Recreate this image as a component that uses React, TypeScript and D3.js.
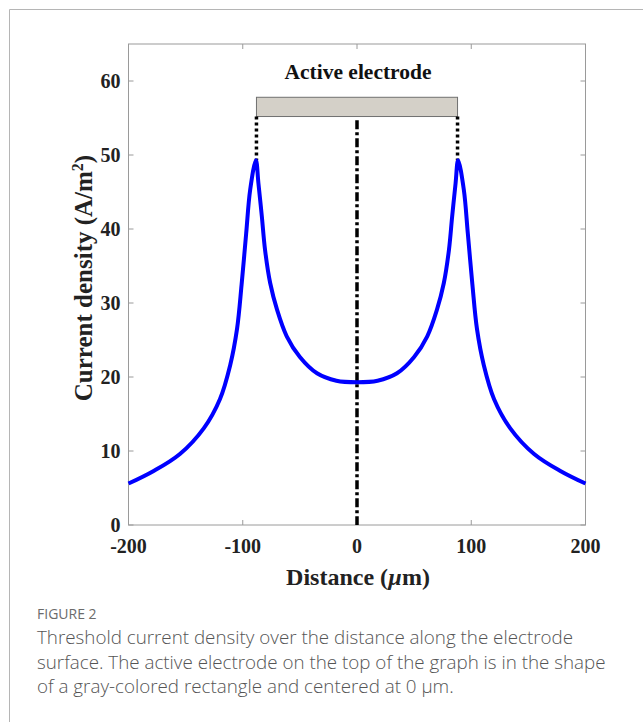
import React from "react";
import * as d3 from "d3";

const distance = [-200, -178, -155, -134, -120, -111, -105, -101, -97, -93.5, -88.5, -86.3, -83.3, -80.5, -76, -70, -61.5, -50, -35, -18, 0, 18, 35, 50, 61.5, 70, 76, 80.5, 83.3, 86.3, 88.5, 93.5, 97, 101, 105, 111, 120, 134, 155, 178, 200];
const density = [5.6, 7.3, 9.6, 13.1, 17.0, 21.6, 26.5, 32.5, 39.4, 45.3, 49.3, 46.2, 41.7, 37.2, 32.7, 29.1, 25.5, 22.7, 20.5, 19.5, 19.3, 19.5, 20.5, 22.7, 25.5, 29.1, 32.7, 37.2, 41.7, 46.2, 49.3, 45.3, 39.4, 32.5, 26.5, 21.6, 17.0, 13.1, 9.6, 7.3, 5.6];
const xTicks = [-200, -100, 0, 100, 200];
const yTicks = [0, 10, 20, 30, 40, 50, 60];
const electrodeEdges = [-88, 88];
const electrodeBottom = 55.2;
const electrodeTop = 57.8;
const peakValue = 49.3;
const captionLines = [
  "Threshold current density over the distance along the electrode",
  "surface. The active electrode on the top of the graph is in the shape",
  "of a gray-colored rectangle and centered at 0\u00a0\u00b5m.",
];

export default function App() {
  const W = 643, H = 722;
  const left = 128.5, right = 585.5, top = 44, bottom = 525;
  const x = d3.scaleLinear().domain([-200, 200]).range([left, right]);
  const y = d3.scaleLinear().domain([0, 65]).range([bottom, top]);
  const pts = distance.map((d, i) => [d, density[i]] as [number, number]);
  const line = d3.line<[number, number]>().x(d => x(d[0])).y(d => y(d[1])).curve(d3.curveCatmullRom.alpha(0.5));
  const axisColor = "#9a9a9a";
  const serif = "'Liberation Serif', 'Times New Roman', serif";
  const tl = 5;
  return (
    <svg width={W} height={H} style={{ display: "block", position: "absolute", left: 0, top: 0 }}>
      <rect x={0} y={0} width={W} height={H} fill="#fff" />
      <line x1={9.5} y1={9.5} x2={W} y2={9.5} stroke="#b5b5b5" strokeWidth={1} />
      <line x1={9.5} y1={9.5} x2={9.5} y2={H} stroke="#b5b5b5" strokeWidth={1} />
      {/* plot box */}
      <rect x={left} y={top} width={right - left} height={bottom - top} fill="none" stroke={axisColor} strokeWidth={1} />
      {xTicks.map(t => (
        <g key={"x" + t}>
          <line x1={x(t)} x2={x(t)} y1={bottom} y2={bottom - tl} stroke={axisColor} />
          <line x1={x(t)} x2={x(t)} y1={top} y2={top + tl} stroke={axisColor} />
          <text x={x(t)} y={bottom + 28} textAnchor="middle" fontFamily={serif} fontWeight="bold" fontSize={20} fill="#222">{t}</text>
        </g>
      ))}
      {yTicks.map(t => (
        <g key={"y" + t}>
          <line x1={left} x2={left + tl} y1={y(t)} y2={y(t)} stroke={axisColor} />
          <line x1={right} x2={right - tl} y1={y(t)} y2={y(t)} stroke={axisColor} />
          <text x={left - 8} y={y(t) + 7} textAnchor="end" fontFamily={serif} fontWeight="bold" fontSize={20} fill="#222">{t}</text>
        </g>
      ))}
      {/* electrode */}
      <rect x={x(electrodeEdges[0])} y={y(electrodeTop)} width={x(electrodeEdges[1]) - x(electrodeEdges[0])} height={y(electrodeBottom) - y(electrodeTop)} fill="#d4d0c8" stroke="#707070" strokeWidth={1} />
      <text x={x(0) + 1} y={79} textAnchor="middle" fontFamily={serif} fontWeight="bold" fontSize={21.5} fill="#111">Active electrode</text>
      {electrodeEdges.map(e => (
        <line key={"e" + e} x1={x(e)} x2={x(e)} y1={y(electrodeBottom)} y2={y(peakValue)} stroke="#000" strokeWidth={3.5} strokeDasharray="3,3" />
      ))}
      <line x1={x(0)} x2={x(0)} y1={y(54.7)} y2={y(0)} stroke="#000" strokeWidth={3.5} strokeDasharray="9,3,3,3" />
      <path d={line(pts) || ""} fill="none" stroke="#0000ff" strokeWidth={4} strokeLinejoin="round" />
      {/* axis labels */}
      <text x={x(0) + 1} y={585} textAnchor="middle" fontFamily={serif} fontWeight="bold" fontSize={24} fill="#222">
        Distance (<tspan fontStyle="italic">{"\u00b5"}</tspan>m)
      </text>
      <text transform={`translate(92, ${278}) rotate(-90)`} textAnchor="middle" fontFamily={serif} fontWeight="bold" fontSize={25} fill="#222">
        Current density (A/m<tspan dy={-9} fontSize={16}>2</tspan><tspan dy={9}>)</tspan>
      </text>
      {/* caption */}
      <text x={37} y={619} fontFamily="'Open Sans', sans-serif" fontSize={14} fill="#6b6b6b">FIGURE 2</text>
      {captionLines.map((l, i) => (
        <text key={i} x={37} y={644 + i * 24.5} fontFamily="'Open Sans', sans-serif" fontWeight={300} fontSize={18.8} fill="#555">{l}</text>
      ))}
    </svg>
  );
}
